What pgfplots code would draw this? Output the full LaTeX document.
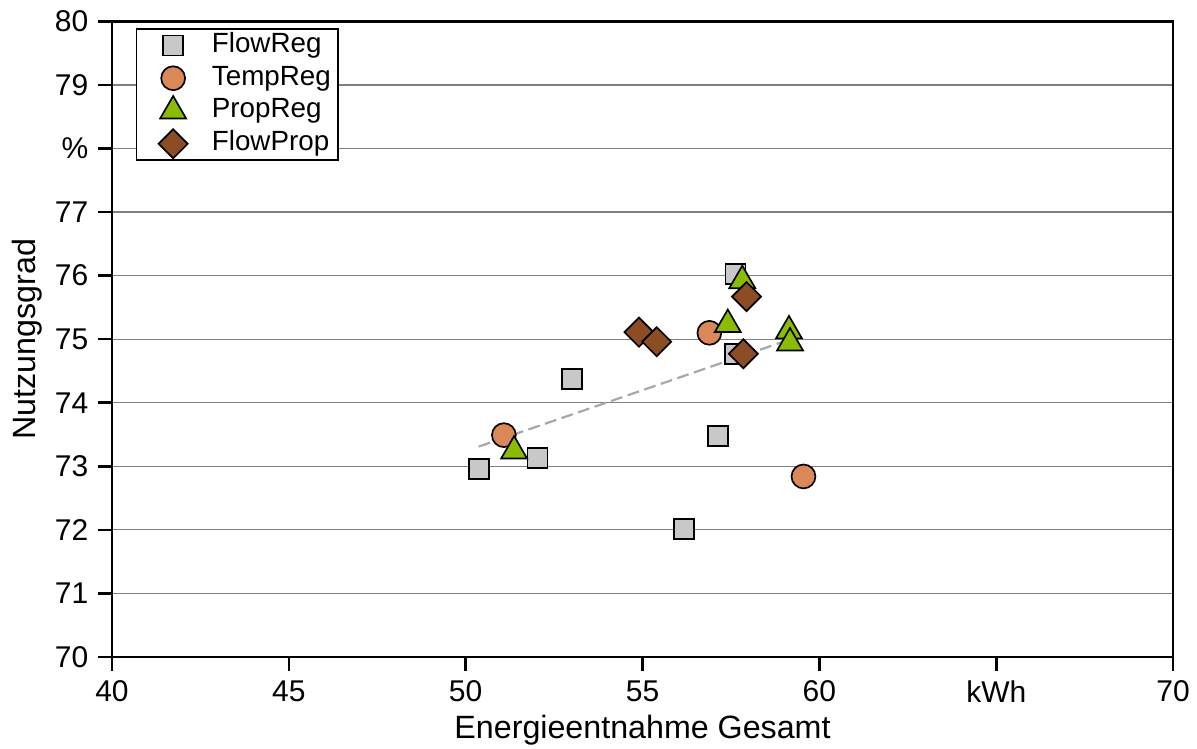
\documentclass[border=0pt]{standalone}
\usepackage{fontspec}
\setmainfont{Liberation Sans}
\usepackage{pgfplots}
\pgfplotsset{compat=1.18}

\definecolor{sqgray}{RGB}{200,200,200}
\definecolor{circorange}{RGB}{218,136,88}
\definecolor{trigreen}{RGB}{140,188,0}
\definecolor{diabrown}{RGB}{140,76,36}
\definecolor{gridgray}{RGB}{128,128,128}
\definecolor{trendgray}{RGB}{168,168,168}

\begin{document}
\begin{tikzpicture}
\begin{axis}[
  name=ax,
  scale only axis,
  width=382pt, height=228.8pt,
  xmin=40, xmax=70, ymin=70, ymax=80,
  xtick={40,45,50,55,60,65,70},
  xticklabels={40,45,50,55,60,kWh,70},
  ytick={70,71,...,80},
  yticklabels={70,71,72,73,74,75,76,77,\%,79,80},
  tick align=outside,
  major tick length=5pt,
  xtick pos=bottom, ytick pos=left,
  ymajorgrids,
  major grid style={gridgray, line width=0.45pt},
  axis line style={line width=0.9pt},
  every tick/.style={black, line width=0.9pt},
  tick label style={font=\fontsize{10.8}{12}\selectfont},
  /pgf/number format/assume math mode=true,
  xlabel={Energieentnahme Gesamt},
  ylabel={Nutzungsgrad},
  label style={font=\fontsize{11.6}{13}\selectfont},
  xlabel style={at={(axis description cs:0.5,-0.115)}, anchor=center},
  ylabel style={at={(axis description cs:-0.08,0.5)}, anchor=center},
  legend style={at={(0.0226,0.989)}, anchor=north west, draw=black,
    line width=0.5pt, font=\fontsize{10}{12}\selectfont,
    row sep=0pt, inner xsep=1.6pt, inner ysep=0pt,
    nodes={text height=7.2pt, text depth=2.2pt, inner ysep=1.2pt, inner xsep=1pt},
    /tikz/every even column/.append style={column sep=0pt}},
  legend cell align=left,
  legend image code/.code={\path (0pt,0pt) (24pt,0pt);
    \draw[#1] plot coordinates {(11.3pt,0pt)};},
]
\addplot[only marks, mark=square*, mark size=3.6pt,
  mark options={fill=sqgray, draw=black, line width=0.6pt}]
  coordinates {(50.38,72.96)(52.03,73.13)(53.00,74.37)(56.18,72.01)
               (57.14,73.48)(57.63,76.03)(57.61,74.77)};
\addlegendentry{FlowReg}
\addplot[only marks, mark=*, mark size=4.3pt,
  mark options={fill=circorange, draw=black, line width=0.6pt}]
  coordinates {(51.08,73.49)(56.89,75.10)(59.55,72.84)};
\addlegendentry{TempReg}
\addplot[only marks, mark=triangle*, mark size=5.4pt,
  mark options={fill=trigreen, draw=black, line width=0.6pt}]
  coordinates {(51.37,73.24)(57.41,75.23)(57.82,75.92)(59.14,75.13)(59.17,74.94)};
\addlegendentry{PropReg}
\addplot[only marks, mark=square*, mark size=3.7pt,
  mark options={rotate=45, fill=diabrown, draw=black, line width=0.6pt}]
  coordinates {(57.94,75.67)(54.90,75.11)(55.40,74.96)(57.85,74.77)};
\addlegendentry{FlowProp}
\addplot[trendgray, line width=0.8pt, dash pattern=on 4.3pt off 2pt, forget plot]
  coordinates {(50.37,73.31)(59.45,75.05)};
\end{axis}
\pgfresetboundingbox
\path ([shift={(-40.3pt,-33.1pt)}]ax.south west) rectangle ([shift={(8.6pt,7.7pt)}]ax.north east);
\end{tikzpicture}
\end{document}
